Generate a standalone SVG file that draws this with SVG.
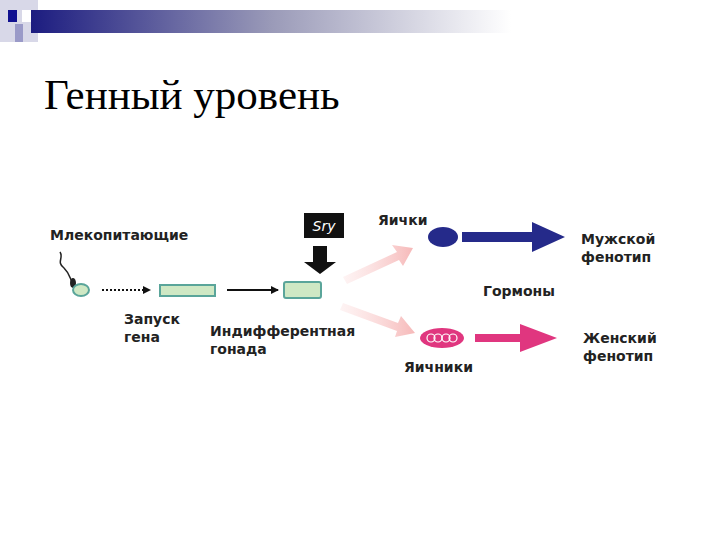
<svg xmlns="http://www.w3.org/2000/svg" width="720" height="540" viewBox="0 0 720 540">
<defs>
<linearGradient id="bar" x1="0" x2="1"><stop offset="0" stop-color="#1c1c80"/><stop offset="0.5" stop-color="#9a9ab8"/><stop offset="1" stop-color="#ffffff"/></linearGradient>
<linearGradient id="pk" x1="0" x2="1"><stop offset="0" stop-color="#fbd9d9" stop-opacity="0.3"/><stop offset="1" stop-color="#f6b9b9"/></linearGradient>
<marker id="ah" markerWidth="8" markerHeight="8" refX="7" refY="4" orient="auto" markerUnits="userSpaceOnUse"><path d="M0,0 L8,4 L0,8 Z" fill="#111"/></marker>
</defs>
<style>
text{font-family:"DejaVu Sans",sans-serif;font-weight:bold;font-size:14px;fill:#222}
.box{fill:#cfe8c4;stroke:#5aa59a;stroke-width:2}
</style>
<rect width="720" height="540" fill="#fff"/>
<g id="header">
<rect x="0" y="0" width="38" height="42" fill="#d8d8e8"/>
<rect x="22" y="10" width="16" height="12" fill="#fff"/>
<rect x="8" y="10" width="9" height="12" fill="#101090"/>
<rect x="15" y="24" width="8" height="18" fill="#9a9ac8"/>
<rect x="31" y="10" width="480" height="23" fill="url(#bar)"/>
<text x="44" y="109" style="font-family:'Liberation Serif',serif;font-weight:normal;font-size:43px;fill:#000">Генный уровень</text>
</g>
<g id="connectors">
<line x1="102" y1="290" x2="150" y2="290" stroke="#111" stroke-width="2" stroke-dasharray="2,2" marker-end="url(#ah)"/>
<line x1="227" y1="290" x2="278" y2="290" stroke="#111" stroke-width="2" marker-end="url(#ah)"/>
<path d="M313,246 h14 v16 h9 l-16,12 l-16,-12 h9 z" fill="#111"/>
<path d="M343,277 L397,252 L392,245 L413,248 L403,266 L399,260 L347,284 Z" fill="url(#pk)"/>
<path d="M343,303 L398,323 L401,316 L415,333 L395,337 L397,331 L340,310 Z" fill="url(#pk)"/>
<path d="M462,232 h70 v-10 l33,15 l-33,15 v-10 h-70 z" fill="#252a8a"/>
<path d="M475,334 h45 v-10 l37,14 l-37,14 v-10 h-45 z" fill="#e0367f"/>
</g>
<g id="mammals"><text x="50" y="240">Млекопитающие</text>
<path d="M60,252 c4,6 -4,10 4,16 c6,6 6,10 8,14" stroke="#222" fill="none" stroke-width="1.5"/>
<ellipse cx="73" cy="283" rx="3" ry="5" fill="#222"/>
<ellipse cx="81" cy="290" rx="8" ry="6" fill="#cfe8c4" stroke="#5aa59a" stroke-width="2"/></g>
<g id="gene"><rect x="160" y="285" width="55" height="11" class="box"/><text x="124" y="324">Запуск</text><text x="124" y="342">гена</text></g>
<g id="gonad"><rect x="284" y="282" width="37" height="16" rx="2" class="box"/><text x="210" y="336">Индифферентная</text><text x="210" y="354">гонада</text></g>
<g id="sry"><rect x="304" y="213" width="40" height="25" fill="#111"/><text x="324" y="231" text-anchor="middle" style="fill:#fff;font-weight:normal;font-style:italic;font-size:14px">Sry</text></g>
<g id="testes"><ellipse cx="443" cy="237" rx="15" ry="10" fill="#252a8a"/><text x="378" y="225">Яички</text></g>
<g id="ovaries"><ellipse cx="442" cy="338" rx="22" ry="10" fill="#e0367f"/>
<g fill="none" stroke="#fff" stroke-width="1.2"><circle cx="431" cy="338" r="4"/><circle cx="438" cy="338" r="4"/><circle cx="446" cy="338" r="4"/><circle cx="453" cy="338" r="4"/></g>
<text x="404" y="372">Яичники</text></g>
<g id="male"><text x="581" y="244">Мужской</text><text x="581" y="262">фенотип</text></g>
<g id="hormones"><text x="483" y="296">Гормоны</text></g>
<g id="female"><text x="583" y="343">Женский</text><text x="583" y="361">фенотип</text></g>
</svg>
